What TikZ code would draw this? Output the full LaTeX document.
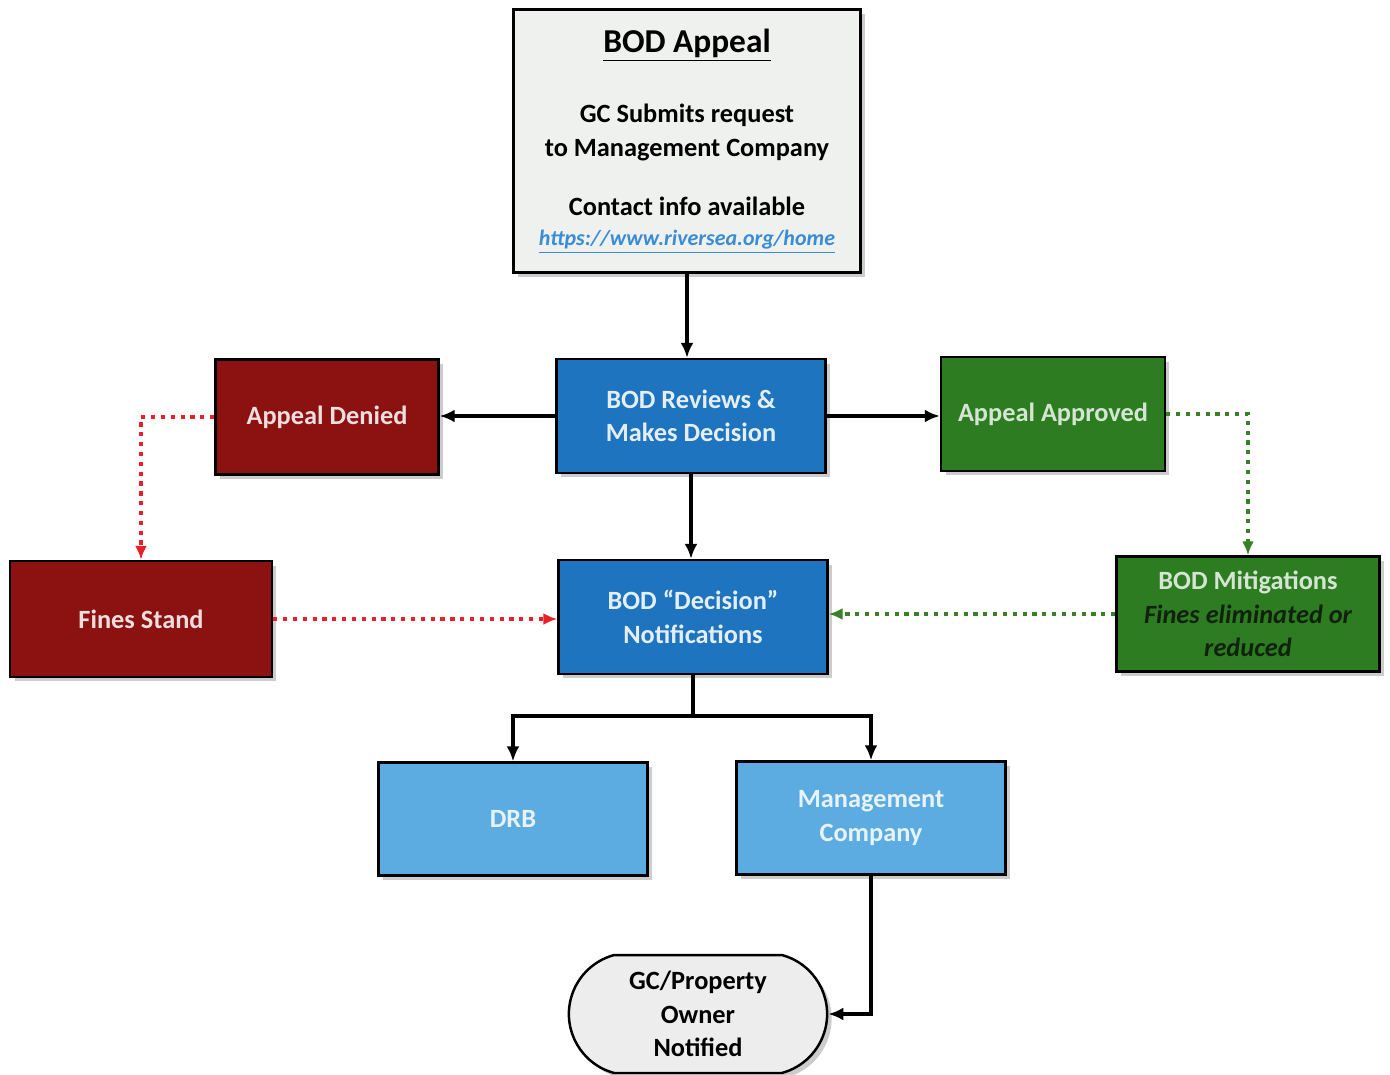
\documentclass[tikz,border=0pt]{standalone}
\usepackage{fontspec}
\setmainfont{Carlito}
\usetikzlibrary{arrows.meta,shadows,shapes.misc}

\definecolor{topfill}{RGB}{238,241,238}
\definecolor{bodblue}{RGB}{30,116,190}
\definecolor{lightblue}{RGB}{92,172,226}
\definecolor{denyred}{RGB}{140,18,18}
\definecolor{okgreen}{RGB}{46,124,34}
\definecolor{dotred}{RGB}{232,32,42}
\definecolor{dotgreen}{RGB}{58,128,40}
\definecolor{urlblue}{RGB}{58,140,214}
\definecolor{gcfill}{RGB}{236,237,236}
\definecolor{mitigtext}{RGB}{16,34,12}

\begin{document}
\begin{tikzpicture}[x=0.02cm,y=-0.02cm,
  box/.style={draw=black, line width=1.4pt, align=center,
    font=\fontsize{15}{19}\selectfont\bfseries,
    drop shadow={shadow xshift=0.09cm,shadow yshift=-0.09cm,opacity=0.4}},
  bluebox/.style={box, fill=bodblue, text=white!88!bodblue, minimum width=5.38cm, minimum height=2.28cm},
  paleblue/.style={box, fill=lightblue, text=white!85!lightblue, minimum width=5.38cm, minimum height=2.26cm},
  redbox/.style={box, fill=denyred, text=white!86!denyred},
  greenbox/.style={box, fill=okgreen, text=white!80!okgreen},
  arrow/.style={black, line width=2.4pt, -{Latex[length=0.30cm,width=0.26cm]}},
  dotarrow/.style={line width=2.6pt, dash pattern=on 2.4pt off 3.2pt, -{Latex[length=0.28cm,width=0.24cm]}}]
\useasboundingbox (0,0) rectangle (1390,1075);

\node[box, fill=topfill, minimum width=6.94cm, minimum height=5.26cm] (appeal) at (687,141)
  {{\fontsize{19}{22}\selectfont\underline{BOD Appeal}}\\[21pt]
   GC Submits request\\
   to Management Company\\[15pt]
   Contact info available\\[-2pt]
   {\fontsize{12.5}{15}\selectfont\itshape\color{urlblue}\underline{https://www.riversea.org/home}}};

\node[bluebox] (review) at (691,416) {BOD Reviews \&\\Makes Decision};
\node[redbox, minimum width=4.46cm, minimum height=2.30cm] (denied) at (327,417) {Appeal Denied};
\node[greenbox, minimum width=4.48cm, minimum height=2.28cm] (approved) at (1053,414) {Appeal Approved};
\node[bluebox] (notify) at (693,617) {BOD ``Decision''\\Notifications};
\node[redbox, minimum width=5.24cm, minimum height=2.32cm] (stand) at (141,619) {Fines Stand};
\node[greenbox, minimum width=5.26cm, minimum height=2.30cm] (mitigate) at (1248,614)
  {BOD Mitigations\\{\itshape\color{mitigtext}Fines eliminated or}\\{\itshape\color{mitigtext}reduced}};
\node[paleblue] (drb) at (513,819) {DRB};
\node[paleblue] (mgmt) at (871,818) {Management\\Company};
\node[box, rounded rectangle, rounded rectangle arc length=150, fill=gcfill, text=black, minimum width=5.40cm, minimum height=2.36cm] (owner) at (698,1014)
  {GC/Property\\Owner\\Notified};

\coordinate (fork) at (693,716);

\draw[arrow] (appeal.south) -- (appeal.south |- review.north);
\draw[arrow] (review.west) -- (review.west -| denied.east);
\draw[arrow] (review.east) -- (review.east -| approved.west);
\draw[arrow] (review.south) -- (review.south |- notify.north);
\draw[dotarrow, dotred] (denied.west) -| (stand.north);
\draw[dotarrow, dotred] (stand.east) -- (stand.east -| notify.west);
\draw[dotarrow, dotgreen] (approved.east) -| (mitigate.north);
\draw[dotarrow, dotgreen] (mitigate.west) -- (mitigate.west -| notify.east);
\draw[black, line width=2.4pt] (notify.south) -- (fork);
\draw[arrow] (fork) -| (drb.north);
\draw[arrow] (fork) -| (mgmt.north);
\draw[arrow] (mgmt.south) |- (owner.east);
\end{tikzpicture}
\end{document}
